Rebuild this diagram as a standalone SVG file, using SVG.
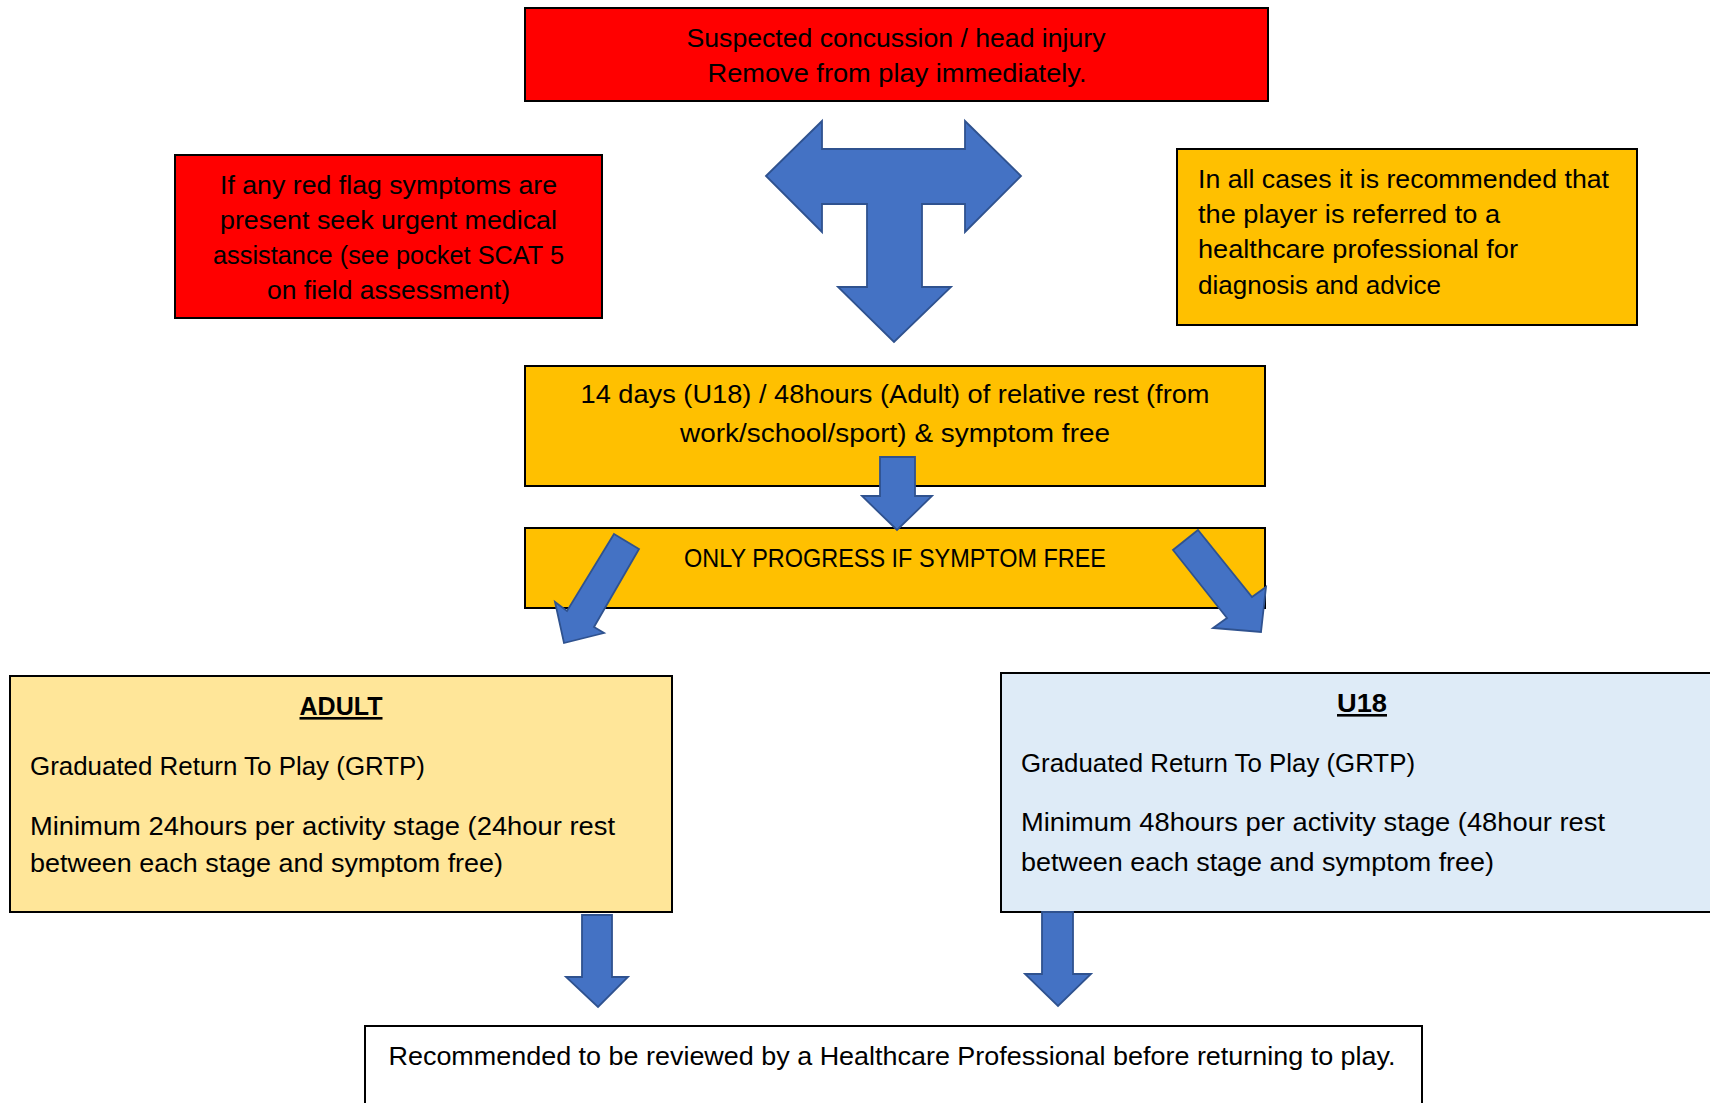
<svg xmlns="http://www.w3.org/2000/svg" width="1710" height="1103" viewBox="0 0 1710 1103">
<style>
  .box { stroke: #000; stroke-width: 2; }
  .red { fill: #FF0000; }
  .orange { fill: #FFC000; }
  .yellow { fill: #FFE699; }
  .blue { fill: #DEEBF7; }
  .white { fill: #FFFFFF; }
  text { font-family: "Liberation Sans", Arial, sans-serif; font-size: 26px; fill: #000; }
  .c { text-anchor: middle; }
  .h { font-weight: bold; text-decoration: underline; }
  .arrow { fill: #4472C4; stroke: #2F528F; stroke-width: 1.8; stroke-linejoin: miter; }
</style>
<rect width="1710" height="1103" fill="#FFFFFF"/>

<g id="node-suspected">
  <rect class="box red" x="525" y="8" width="743" height="93"/>
  <text class="c" x="896" y="47" textLength="419" lengthAdjust="spacingAndGlyphs">Suspected concussion / head injury</text>
  <text class="c" x="897" y="82" textLength="379" lengthAdjust="spacingAndGlyphs">Remove from play immediately.</text>
</g>

<g id="node-redflag">
  <rect class="box red" x="175" y="155" width="427" height="163"/>
  <text class="c" x="388.5" y="194" textLength="337" lengthAdjust="spacingAndGlyphs">If any red flag symptoms are</text>
  <text class="c" x="388.5" y="229" textLength="337" lengthAdjust="spacingAndGlyphs">present seek urgent medical</text>
  <text class="c" x="388.5" y="264" textLength="351" lengthAdjust="spacingAndGlyphs">assistance (see pocket SCAT 5</text>
  <text class="c" x="388.5" y="299" textLength="243" lengthAdjust="spacingAndGlyphs">on field assessment)</text>
</g>

<g id="node-allcases">
  <rect class="box orange" x="1177" y="149" width="460" height="176"/>
  <text x="1198" y="188" textLength="411" lengthAdjust="spacingAndGlyphs">In all cases it is recommended that</text>
  <text x="1198" y="223" textLength="302" lengthAdjust="spacingAndGlyphs">the player is referred to a</text>
  <text x="1198" y="258" textLength="320" lengthAdjust="spacingAndGlyphs">healthcare professional for</text>
  <text x="1198" y="294" textLength="243" lengthAdjust="spacingAndGlyphs">diagnosis and advice</text>
</g>

<g id="node-rest">
  <rect class="box orange" x="525" y="366" width="740" height="120"/>
  <text class="c" x="895" y="403" textLength="629" lengthAdjust="spacingAndGlyphs">14 days (U18) / 48hours (Adult) of relative rest (from</text>
  <text class="c" x="895" y="442" textLength="430" lengthAdjust="spacingAndGlyphs">work/school/sport) &amp; symptom free</text>
</g>

<g id="node-progress">
  <rect class="box orange" x="525" y="528" width="740" height="80"/>
  <text class="c" x="895" y="567" textLength="422" lengthAdjust="spacingAndGlyphs">ONLY PROGRESS IF SYMPTOM FREE</text>
</g>

<g id="node-adult">
  <rect class="box yellow" x="10" y="676" width="662" height="236"/>
  <text class="c h" x="341" y="715" textLength="83" lengthAdjust="spacingAndGlyphs">ADULT</text>
  <text x="30" y="775" textLength="395" lengthAdjust="spacingAndGlyphs">Graduated Return To Play (GRTP)</text>
  <text x="30" y="835" textLength="585" lengthAdjust="spacingAndGlyphs">Minimum 24hours per activity stage (24hour rest</text>
  <text x="30" y="872" textLength="473" lengthAdjust="spacingAndGlyphs">between each stage and symptom free)</text>
</g>

<g id="node-u18">
  <rect class="box blue" x="1001" y="673" width="722" height="239"/>
  <text class="c h" x="1362" y="712" textLength="50" lengthAdjust="spacingAndGlyphs">U18</text>
  <text x="1021" y="772" textLength="394" lengthAdjust="spacingAndGlyphs">Graduated Return To Play (GRTP)</text>
  <text x="1021" y="831" textLength="584" lengthAdjust="spacingAndGlyphs">Minimum 48hours per activity stage (48hour rest</text>
  <text x="1021" y="871" textLength="473" lengthAdjust="spacingAndGlyphs">between each stage and symptom free)</text>
</g>

<g id="node-review">
  <rect class="box white" x="365" y="1026" width="1057" height="100"/>
  <text class="c" x="892" y="1065" textLength="1007" lengthAdjust="spacingAndGlyphs">Recommended to be reviewed by a Healthcare Professional before returning to play.</text>
</g>

<g id="connectors">
  <path class="arrow" d="M766,176 L822,121 L822,149 L965,149 L965,121 L1021,176 L965,232 L965,204 L922,204 L922,287 L951,287 L894,342 L838,287 L867,287 L867,204 L822,204 L822,232 Z"/>
  <path class="arrow" d="M880,457 L915,457 L915,496 L932,496 L897,530 L862,496 L880,496 Z"/>
  <path class="arrow" d="M614,534 L639,549 L594,627 L604,633 L564,643 L555,602 L567,611 Z"/>
  <path class="arrow" d="M1198,530 L1173,550 L1227,618 L1213,628 L1261,632 L1266,587 L1252,597 Z"/>
  <path class="arrow" d="M582,915 L612,915 L612,977 L628,977 L598,1007 L566,977 L582,977 Z"/>
  <path class="arrow" d="M1042,912 L1073,912 L1073,974 L1091,974 L1058,1006 L1025,974 L1042,974 Z"/>
</g>
</svg>
